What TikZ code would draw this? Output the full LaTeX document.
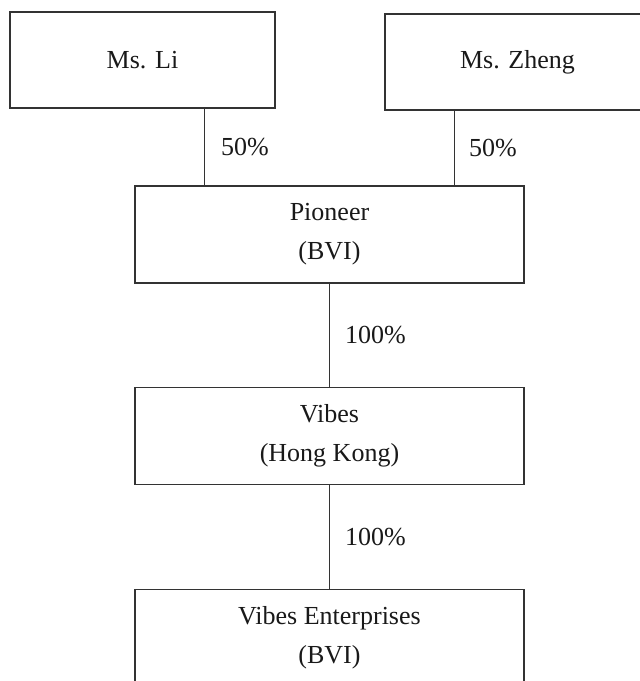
\documentclass[tikz,border=0pt]{standalone}
\usepackage{fontspec}
\setmainfont{Liberation Serif}
\usetikzlibrary{positioning}

\begin{document}
\begin{tikzpicture}[
    x=0.5pt, y=-0.5pt,
    entity/.style={
      draw=black!80,
      line width=0.6pt,
      minimum width=194.5pt,
      minimum height=48.5pt,
      align=center,
      inner sep=0pt,
      text=black!90,
      font=\fontsize{13}{19.5}\selectfont
    },
    owner/.style={entity, minimum width=132.5pt, minimum height=48pt},
    share/.style={font=\fontsize{13}{15}\selectfont, text=black!90, inner sep=0pt},
    link/.style={draw=black!80, line width=0.6pt}
  ]
    \useasboundingbox (0,0) rectangle (640,681);

    \node[owner] (li) at (142.5,60) {Ms. Li};
    \node[owner] (zheng) at (517.5,62) {Ms. Zheng};

    \node[entity] (pioneer) at (329.5,234.5) {Pioneer\\(BVI)};
    \node[entity] (vibes) at (329.5,436) {Vibes\\(Hong Kong)};
    \node[entity] (enterprises) at (329.5,638) {Vibes Enterprises\\(BVI)};

    \coordinate (lileg) at ([xshift=-62.5pt]pioneer.north);
    \coordinate (zhengleg) at ([xshift=62.5pt]pioneer.north);

    \draw[link] (lileg |- li.south) -- node[share, midway, right=8pt] {50\%} (lileg);
    \draw[link] (zhengleg |- zheng.south) -- node[share, midway, right=7pt] {50\%} (zhengleg);
    \draw[link] (pioneer.south) -- node[share, midway, right=7.5pt] {100\%} (vibes.north);
    \draw[link] (vibes.south) -- node[share, midway, right=7.5pt] {100\%} (enterprises.north);
  \end{tikzpicture}
\end{document}
